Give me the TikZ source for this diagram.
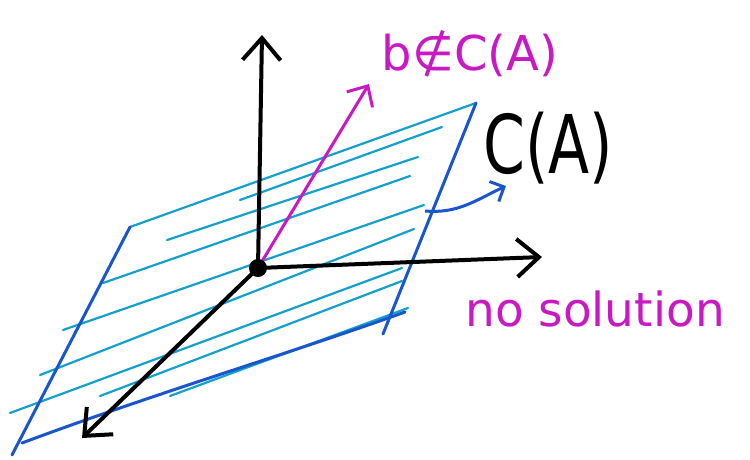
\documentclass[tikz,border=0pt]{standalone}
\usepackage{fontspec}
\newfontfamily\main{DejaVu Sans}
\usetikzlibrary{arrows.meta}
\definecolor{bleu}{RGB}{25,85,205}
\definecolor{hachure}{RGB}{20,160,205}
\definecolor{rose}{RGB}{200,25,195}
\begin{document}
\begin{tikzpicture}[x=1pt,y=-1pt]
	% Styles (MODIFIABLES)
	\tikzstyle{axe}=[line width=4pt,line cap=round,-{Straight Barb[length=22pt,width=38pt,line width=4pt]}]
	\tikzstyle{vecteur}=[rose,line width=3pt,-{Straight Barb[length=16pt,width=30pt,line width=3pt]}]
	\tikzstyle{bord}=[bleu,line width=3pt,line cap=round]
	\tikzstyle{trait}=[hachure,line width=2.2pt,line cap=round]
	\tikzstyle{fleche}=[bleu,line width=3pt,-{Straight Barb[length=11pt,width=22pt,line width=3pt]}]
	\tikzstyle{texte}=[inner sep=0pt,font=\main]
	\useasboundingbox (0,0) rectangle (750,459);
	% Points
	\coordinate (O) at (258,268);
	\coordinate (Haut) at (262,35);
	\coordinate (Droite) at (542,257);
	\coordinate (Avant) at (82,438);
	\coordinate (Bout) at (369,84);
	\coordinate (A) at (130,227);
	\coordinate (B) at (476,103);
	\coordinate (C) at (383,334);
	\coordinate (D) at (12,455);
	\coordinate (Bg) at (22,443);
	\coordinate (Bd) at (405,312);
	\coordinate (Fa) at (425,211);
	\coordinate (Fb) at (506,186);
	% Hachures
	\draw[trait] (A)--(B);
	\foreach \xa/\ya/\xb/\yb in {240/200/442/127, 167/240/418/157, 103/283/410/176,
		63/330/424/205, 40/375/414/229, 10/413/402/268, 100/396/402/281, 170/396/408/308}
		\draw[trait] (\xa,\ya)--(\xb,\yb);
	% Bords du plan
	\draw[bord] (A)--(D);
	\draw[bord] (B)--(C);
	\draw[bord] (Bg) .. controls (150,395) and (300,350) .. (Bd);
	% Axes
	\draw[axe] (O)--(Haut);
	\draw[axe] (O)--(Droite);
	\draw[axe] (O)--(Avant);
	\draw[vecteur] (O)--(Bout);
	\fill (O) circle (9pt);
	\draw[fleche] (Fa) to[out=-5,in=205] (Fb);
	% Textes
	\node[texte,rose,font=\main\fontsize{48}{48}\selectfont] (b) at (470,54) {b∉C(A)};
	\node[texte,font=\main\fontsize{60}{60}\selectfont] (CA) at (548,148) {\scalebox{1}[1.35]{C(A)}};
	\node[texte,rose,font=\main\fontsize{47}{47}\selectfont] (sol) at (595,309) {no solution};
\end{tikzpicture}
\end{document}
